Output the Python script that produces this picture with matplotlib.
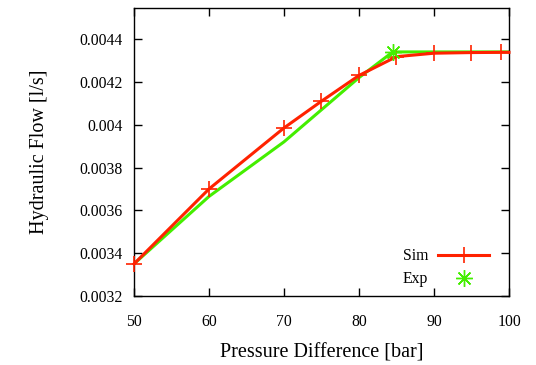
import numpy as np
import matplotlib
matplotlib.use("Agg")
import matplotlib.pyplot as plt
from matplotlib.lines import Line2D

# Simulated flow
sim_dp = [50, 60, 70, 75, 80, 85, 90, 95, 99, 100]
sim_q = [0.00335, 0.00370, 0.003985, 0.00411, 0.00423, 0.004318, 0.004334, 0.004337, 0.004338, 0.004338]

# Experimental flow
exp_dp = [50, 60, 70, 75, 80, 84.5, 100]
exp_q = [0.00335, 0.003665, 0.00392, 0.00407, 0.00422, 0.00434, 0.00434]
exp_mark_dp = [84.5]
exp_mark_q = [0.00434]

x_ticks = [50, 60, 70, 80, 90, 100]
y_ticks = [0.0032, 0.0034, 0.0036, 0.0038, 0.004, 0.0042, 0.0044]
y_labels = ["0.0032", "0.0034", "0.0036", "0.0038", "0.004", "0.0042", "0.0044"]

red = "#ff2200"
green = "#44ee00"

plt.rcParams["font.family"] = ["Liberation Serif", "DejaVu Serif"]

fig = plt.figure(figsize=(5.36, 3.65), dpi=100)
ax = fig.add_axes([0.25, 0.189, 0.6996, 0.789])

ax.plot(exp_dp, exp_q, color=green, lw=2.2, zorder=2)
ax.plot(sim_dp, sim_q, color=red, lw=2.2, marker="+", ms=11.5, mew=1.2,
        markevery=list(range(len(sim_dp) - 1)), zorder=3, clip_on=False)
ax.plot(exp_mark_dp, exp_mark_q, ls="none", color=green, marker=(8, 2, 0),
        ms=12, mew=1.0, zorder=4)

ax.set_xlim(50, 100)
ax.set_ylim(0.0032, 0.004545)
ax.set_xticks(x_ticks)
ax.set_xticklabels([str(v) for v in x_ticks])
ax.set_yticks(y_ticks)
ax.set_yticklabels(y_labels)
ax.tick_params(direction="in", length=6, width=1, top=True, right=True,
               labelsize=11.3)
ax.tick_params(axis="x", pad=13)
ax.tick_params(axis="y", pad=8)
for s in ax.spines.values():
    s.set_linewidth(1)

ax.set_xlabel("Pressure Difference [bar]", fontsize=14.5, labelpad=10)
ax.set_ylabel("Hydraulic Flow [l/s]", fontsize=14.5, labelpad=22)

handles = [Line2D([], [], color=red, lw=2.2, marker="+", ms=11.5, mew=1.2),
           Line2D([], [], ls="none", color=green, marker=(8, 2, 0), ms=12, mew=1.0)]
ax.legend(handles, ["Sim", "Exp"], loc="lower right", markerfirst=False,
          frameon=False, fontsize=11.3, handlelength=3.25, handletextpad=0.64,
          labelspacing=0.45, borderpad=0, borderaxespad=0,
          bbox_to_anchor=(0.947, 0.03))

fig.savefig("out.png", dpi=100)
